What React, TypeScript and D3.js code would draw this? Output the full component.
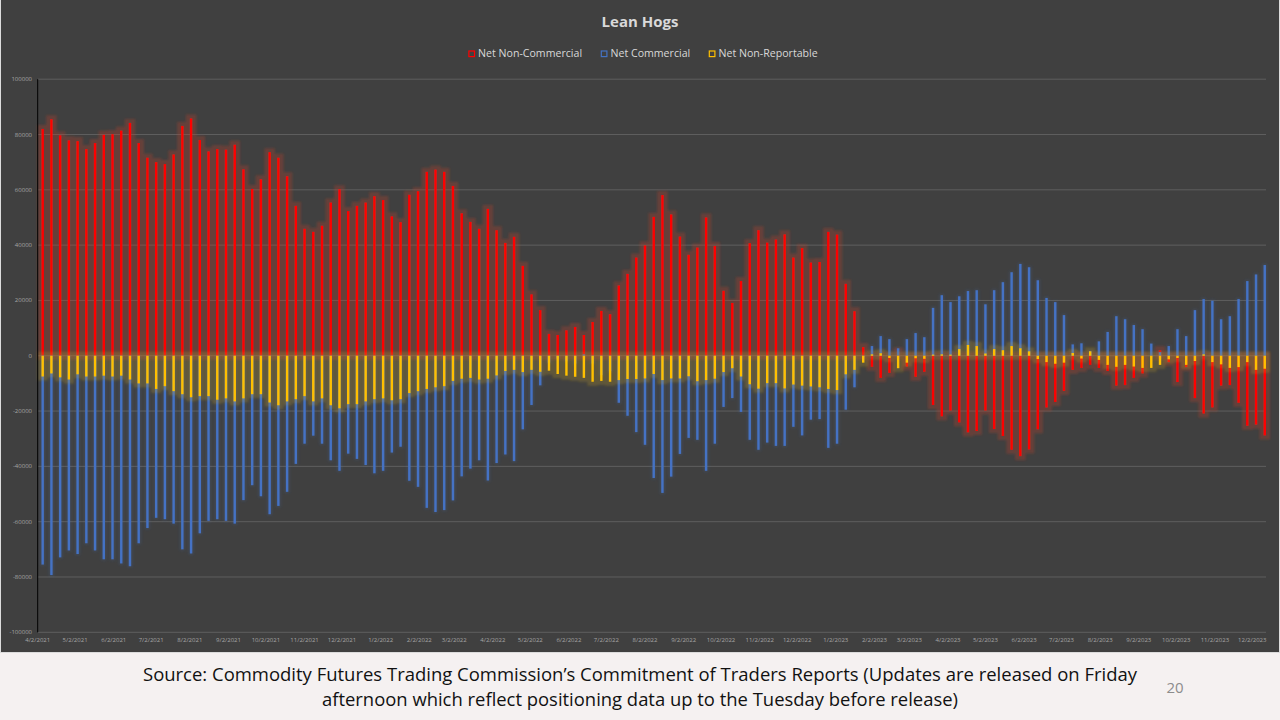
import React from "react";
import * as d3 from "d3";

const firstReportDate = new Date(2021, 3, 6);

const netNonCommercial = [
  82000, 85500, 79700, 77900, 77600, 74700, 76900, 79900, 80100, 81400, 84200, 76900, 71600, 70000, 69300, 72800, 83100, 85800, 78000, 73900, 74700, 74500, 76300,
  67400, 60300, 63800, 73600, 71600, 64900, 54200, 45900, 44800, 47000, 55400, 60200, 52300, 54200, 55400, 57700, 56300, 50400, 48300, 58200, 59500, 66500, 67300, 66500,
  61400, 51500, 48400, 45900, 53100, 45400, 40800, 43000, 32500, 22200, 16500, 7900, 7500, 9200, 10400, 7500, 12200, 16200, 15000, 25400, 29600, 35500, 39900, 50200,
  58100, 51100, 43100, 36500, 39100, 50000, 39700, 23500, 19100, 27000, 40700, 45400, 40900, 42000, 43900, 35500, 38900, 33700, 33900, 44800, 43800, 26000, 16100, 3100,
  -4000, -8000, -6200, 1500, -3900, -7600, -5800, -17800, -21900, -19800, -24100, -27700, -27200, -19800, -26500, -29000, -34000, -36300, -33900, -26600, -18700, -16700, -12700, -5100,
  -4400, -3300, -4400, -5500, -10800, -10600, -8000, -6400, -200, 2000, -2300, -9500, -4100, -15300, -20900, -18700, -10800, -10600, -17000, -25300, -24900, -28800,
];

const netCommercial = [
  -75500, -79300, -72900, -70400, -71700, -67800, -70400, -73600, -73600, -75100, -76100, -67800, -62300, -58600, -59100, -60700, -70000, -71500, -64200, -59700, -59100, -59700, -60700,
  -52200, -46800, -50800, -57300, -54300, -49200, -39100, -31800, -28900, -31800, -37800, -41600, -35400, -37300, -39500, -42500, -41600, -35000, -32900, -45200, -47400, -55000, -56500, -55800,
  -52300, -43600, -40800, -37800, -45100, -38800, -35700, -38100, -26600, -17800, -10700, -2500, -1000, -2000, -2800, 500, -2800, -7000, -5600, -17000, -21700, -27600, -32200, -44200,
  -49600, -43700, -35500, -29700, -30400, -41600, -31800, -18500, -15300, -20300, -30400, -34000, -31400, -32600, -32600, -25700, -28800, -23100, -22900, -33300, -31800, -19500, -11400, -600,
  3500, 7100, 6000, 2700, 6000, 8200, 6700, 17300, 21900, 19400, 21500, 23400, 23700, 18600, 23700, 26600, 30200, 33200, 32000, 27300, 20900, 19400, 14700, 4100,
  4500, 1700, 5200, 8600, 14300, 13200, 11100, 9600, 4400, 1300, 3500, 9600, 7100, 16500, 20500, 19900, 13200, 14300, 20500, 27000, 29400, 32800,
];

const netNonReportable = [
  -7500, -6400, -7800, -8600, -6700, -7500, -7500, -7200, -7500, -7200, -8600, -10000, -10000, -12000, -11000, -12800, -13900, -15000, -14600, -14600, -15900, -15400, -16500,
  -15400, -13900, -13900, -16900, -17900, -16500, -15700, -14600, -16500, -15400, -17900, -19000, -17500, -17500, -16500, -15700, -15400, -16100, -15700, -13500, -12800, -12000, -11400, -11000,
  -9100, -8300, -8000, -8600, -8300, -7100, -5500, -5100, -5900, -5100, -5800, -5400, -6600, -7200, -7600, -8000, -9400, -9100, -9400, -8800, -8400, -8400, -8200, -6600,
  -8800, -8200, -8200, -7400, -9200, -8800, -8300, -5900, -4500, -7500, -10300, -11900, -9900, -9900, -11800, -10400, -10800, -11100, -11400, -12000, -12400, -6700, -5100, -2500,
  500, 900, -800, -4500, -2500, -900, -1100, 400, 500, 400, 2400, 3900, 3500, 800, 2400, 2000, 3500, 2700, 1600, -1200, -2300, -2900, -2500, 1000,
  -1000, 1600, -1500, -3300, -4000, -3300, -3900, -4400, -4400, -3300, -1300, -800, -3300, -1900, 500, -2300, -3100, -4400, -4100, -2300, -5100, -4700,
];

const reportDates = netNonCommercial.map((_, i) => d3.timeDay.offset(firstReportDate, 7 * i));

const yTicks = [100000, 80000, 60000, 40000, 20000, 0, -20000, -40000, -60000, -80000, -100000];
const xTickDates = d3.timeMonth.range(new Date(2021, 3, 1), new Date(2024, 0, 1)).map((d) => d3.timeDay.offset(d, 1));

const seriesNames = ["Net Non-Commercial", "Net Commercial", "Net Non-Reportable"];
const seriesColors = ["#ff0000", "#4472c4", "#ffc000"];

const sourceLine1 = "Source: Commodity Futures Trading Commission\u2019s Commitment of Traders Reports (Updates are released on Friday";
const sourceLine2 = "afternoon which reflect positioning data up to the Tuesday before release)";

export default function App() {
  const W = 1280;
  const H = 720;
  const x = d3.scaleTime().domain([new Date(2021, 3, 2), new Date(2023, 11, 15)]).range([37.7, 1268.5]);
  const y = d3.scaleLinear().domain([-100000, 100000]).range([632.3, 79.2]);
  const fmt = d3.timeFormat("%-m/%-d/%Y");
  const bw = 2.4;

  const series = [netNonCommercial, netCommercial, netNonReportable];
  const glow = [
    { id: "glowRed", r: 3.6, blur: 1.3, color: "#b8402a", op: 0.32 },
    { id: "glowBlue", r: 0.8, blur: 1.5, color: "#4472c4", op: 0.2 },
    { id: "glowYellow", r: 3.6, blur: 1.3, color: "#c8a020", op: 0.24 },
  ];

  const legendX = [468.3, 600.7, 708.7];

  return (
    <div style={{ position: "absolute", left: 0, top: 0 }}>
      <svg width={W} height={H} style={{ display: "block" }}>
        <defs>
          {glow.map((g) => (
            <filter key={g.id} id={g.id} x="-50%" y="-10%" width="200%" height="120%">
              <feMorphology in="SourceAlpha" operator="dilate" radius={g.r} result="dil" />
              <feGaussianBlur in="dil" stdDeviation={g.blur} result="bl" />
              <feFlood floodColor={g.color} floodOpacity={g.op} result="fl" />
              <feComposite in="fl" in2="bl" operator="in" result="gl" />
              <feMerge>
                <feMergeNode in="gl" />
                <feMergeNode in="SourceGraphic" />
              </feMerge>
            </filter>
          ))}
        </defs>
        <rect x={0} y={0} width={W} height={H} fill="#f5f1f1" />
        <rect x={0} y={0} width={W} height={653} fill="#dcdcdc" />
        <rect x={1} y={0} width={W - 2} height={652} fill="#404040" />

        <text x={640} y={27} textAnchor="middle" fontFamily="Open Sans" fontWeight="bold" fontSize={15} fill="#d9d9d9">
          Lean Hogs
        </text>

        {seriesNames.map((name, i) => (
          <g key={name}>
            <rect x={legendX[i] + 0.6} y={51} width={5.6} height={5.6} fill="none" stroke={seriesColors[i]} strokeWidth={1.2} />
            <text x={legendX[i] + 9.8} y={57.3} fontFamily="Open Sans" fontSize={10.6} fill="#d9d9d9">
              {name}
            </text>
          </g>
        ))}

        {yTicks.map((t) => (
          <g key={t}>
            <line x1={38} x2={1266} y1={y(t)} y2={y(t)} stroke="#5e5e5e" strokeWidth={1} />
            <text x={32} y={y(t) + 2} textAnchor="end" fontFamily="Open Sans" fontSize={6} fill="#a6a6a6">
              {t}
            </text>
          </g>
        ))}

        {series.map((vals, s) => (
          <g key={s} filter={`url(#${glow[s].id})`}>
            {vals.map((v, i) => (
              <rect
                key={i}
                x={x(reportDates[i]) - bw / 2}
                y={Math.min(y(v), y(0))}
                width={bw}
                height={Math.abs(y(v) - y(0))}
                fill={seriesColors[s]}
              />
            ))}
          </g>
        ))}

        <line x1={37.7} x2={37.7} y1={79.2} y2={632.3} stroke="#000" strokeWidth={1} />

        {xTickDates.map((d) => (
          <text key={+d} x={x(d)} y={642} textAnchor="middle" fontFamily="Open Sans" fontSize={6} fill="#a6a6a6">
            {fmt(d)}
          </text>
        ))}

        <text x={640} y={681} textAnchor="middle" fontFamily="Open Sans" fontSize={19} fill="#111" textLength={994} lengthAdjust="spacingAndGlyphs">
          {sourceLine1}
        </text>
        <text x={640} y={706} textAnchor="middle" fontFamily="Open Sans" fontSize={19} fill="#111" textLength={636} lengthAdjust="spacingAndGlyphs">
          {sourceLine2}
        </text>
        <text x={1175} y={693} textAnchor="middle" fontFamily="Open Sans" fontSize={15} fill="#8c8c8c">
          20
        </text>
      </svg>
    </div>
  );
}
